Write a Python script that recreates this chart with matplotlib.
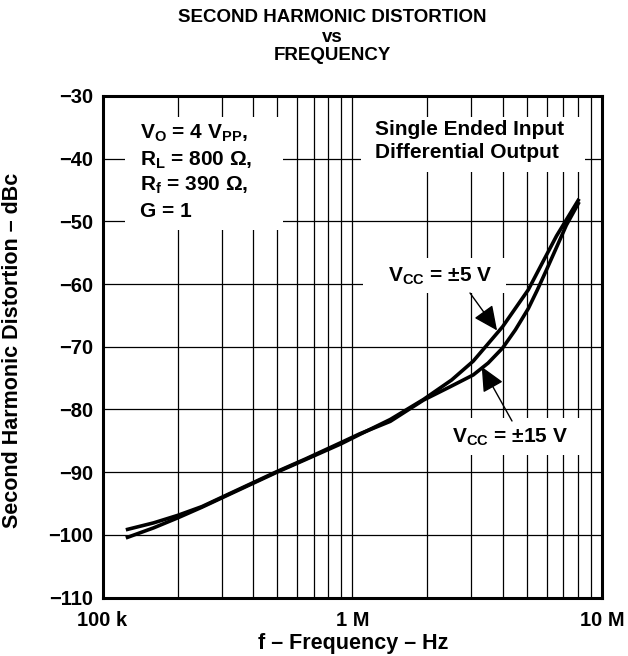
import matplotlib
matplotlib.use("Agg")
import matplotlib.pyplot as plt
from matplotlib.patches import Rectangle
import numpy as np

plt.rcParams['font.family'] = ['Liberation Sans', 'DejaVu Sans']
plt.rcParams['font.weight'] = 'bold'
plt.rcParams['mathtext.fontset'] = 'custom'
plt.rcParams['mathtext.rm'] = 'Liberation Sans:bold'
plt.rcParams['mathtext.it'] = 'Liberation Sans:bold'
plt.rcParams['mathtext.bf'] = 'Liberation Sans:bold'

# values (frequency in MHz, distortion in dBc)
freq_5v = np.array([0.124, 0.16, 0.2, 0.25, 0.32, 0.41, 0.5, 0.65, 0.9, 1.07, 1.42,
                    1.93, 2.5, 3.05, 4.0, 5.07, 5.79, 6.58, 8.1]) * 1e6
hd2_5v = [-100.5, -98.9, -97.3, -95.6, -93.6, -91.6, -90.0, -88.0, -85.5, -84.0, -81.6,
          -78.4, -75.3, -72.3, -66.8, -60.9, -56.5, -52.3, -46.4]

freq_15v = np.array([0.124, 0.16, 0.2, 0.25, 0.32, 0.41, 0.5, 0.65, 0.9, 1.07, 1.42,
                     1.93, 2.46, 3.05, 3.5, 4.0, 4.5, 5.07, 5.5, 6.0, 6.6, 7.2, 8.1]) * 1e6
hd2_15v = [-99.2, -98.1, -96.9, -95.5, -93.5, -91.5, -89.9, -87.9, -85.3, -83.9, -81.9,
           -78.5, -76.4, -74.5, -72.6, -70.2, -67.3, -63.9, -61.0, -57.7, -54.0, -50.6, -46.9]

y_ticks = [-110, -100, -90, -80, -70, -60, -50, -40, -30]
x_ticks = [1e5, 1e6, 1e7]
x_tick_labels = ['100 k', '1 M', '10 M']

W, H = 628, 656
fig = plt.figure(figsize=(W / 100, H / 100), dpi=100)


def px(x, y):
    # pixel position -> figure fraction
    return x / W, 1 - y / H


L, R, T, B = 102.5, 602, 96, 597.5
ax = fig.add_axes([L / W, 1 - B / H, (R - L) / W, (B - T) / H])

ax.set_xscale('log')
ax.set_xlim(1e5, 1e7)
ax.set_ylim(-110, -30)

# grid
minor = [m * 10 ** e for e in (5, 6) for m in range(2, 10)]
for f in minor + [1e6]:
    ax.axvline(f, color='black', lw=0.9, zorder=1)
for v in y_ticks[1:-1]:
    ax.axhline(v, color='black', lw=0.9, zorder=1)

ax.plot(freq_5v, hd2_5v, color='black', lw=2.6, zorder=4, solid_capstyle='butt')
ax.plot(freq_15v, hd2_15v, color='black', lw=2.6, zorder=4, solid_capstyle='butt')

ax.set_xticks(x_ticks)
ax.set_xticklabels(x_tick_labels)
ax.xaxis.set_minor_locator(matplotlib.ticker.NullLocator())
ax.set_yticks(y_ticks)
ax.set_yticklabels(['\u2212%d' % -v for v in y_ticks])
ax.tick_params(length=0, labelsize=14.5)
ax.tick_params(axis='y', pad=6.5)
ax.tick_params(axis='x', pad=10)
for lab in ax.get_xticklabels() + ax.get_yticklabels():
    lab.set_fontweight('bold')
for s in ax.spines.values():
    s.set_linewidth(2.2)
    s.set_zorder(6)

# white boxes that hide the grid behind the notes
boxes = [(125, 117, 283, 230), (361, 117, 585, 172),
         (363, 258, 506, 293), (440, 418, 585, 455)]
for x0, y0, x1, y1 in boxes:
    fx0, fy1 = px(x0, y1)
    fx1, fy0 = px(x1, y0)
    ax.add_patch(Rectangle((fx0, fy1), fx1 - fx0, fy0 - fy1, transform=fig.transFigure,
                           facecolor='white', edgecolor='none', zorder=2, clip_on=False))

fs = 15
notes_left = [r'V$_{\rm O}$ = 4 V$_{\rm PP}$,', r'R$_{\rm L}$ = 800 $\Omega$,',
              r'R$_{\rm f}$ = 390 $\Omega$,', 'G = 1']
for txt, yb in zip(notes_left, [139, 166, 191, 217]):
    fig.text(*px(140, yb), txt, fontsize=fs, fontweight='bold', va='baseline', zorder=5)

fig.text(*px(375, 135), 'Single Ended Input', fontsize=fs, fontweight='bold', va='baseline')
fig.text(*px(375, 158.5), 'Differential Output', fontsize=fs, fontweight='bold', va='baseline')

fig.text(*px(388, 282), r'V$_{\rm CC}$ = $\pm$5 V', fontsize=fs, fontweight='bold', va='baseline')
fig.text(*px(452, 443), r'V$_{\rm CC}$ = $\pm$15 V', fontsize=fs, fontweight='bold', va='baseline')

arrow = dict(arrowstyle='-|>,head_length=0.75,head_width=0.35', color='black', lw=1,
             mutation_scale=20, shrinkA=0, shrinkB=0)
ax.annotate('', xy=(3.8e6, -67.4), xycoords='data', xytext=px(470, 293),
            textcoords='figure fraction', arrowprops=arrow, zorder=5)
ax.annotate('', xy=(3.3e6, -73.2), xycoords='data', xytext=px(512, 421),
            textcoords='figure fraction', arrowprops=arrow, zorder=5)

# titles and axis labels
for txt, yc in zip(['SECOND HARMONIC DISTORTION', 'vs', 'FREQUENCY'], [18, 37, 56]):
    fig.text(*px(332, yc), txt, fontsize=13.5, fontweight='bold', ha='center', va='center')
fig.text(*px(353, 643), 'f \u2013 Frequency \u2013 Hz', fontsize=15.5, fontweight='bold',
         ha='center', va='center')
fig.text(*px(13, 350), 'Second Harmonic Distortion \u2013 dBc', fontsize=15.5,
         fontweight='bold', ha='center', va='center', rotation=90)

fig.savefig('out.png', dpi=100, facecolor='white')
